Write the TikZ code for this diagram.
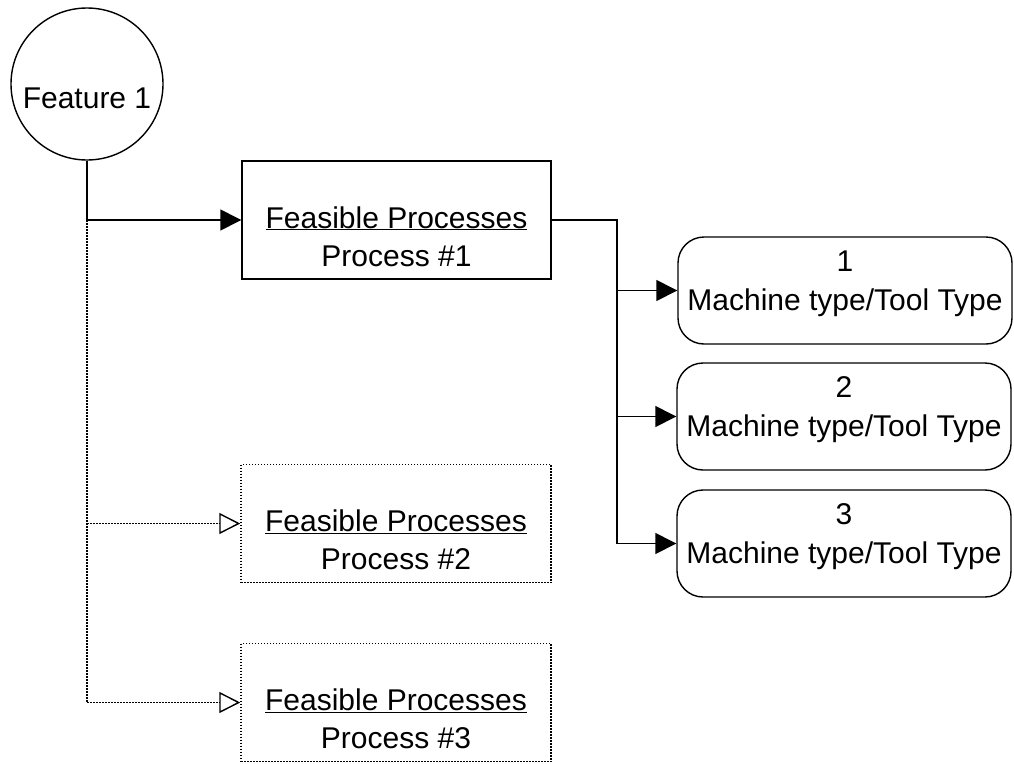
\documentclass[tikz,border=0pt]{standalone}
\usepackage{fontspec}
\setmainfont{Liberation Sans}
\usetikzlibrary{arrows.meta}
\begin{document}
\begin{tikzpicture}[x=1pt,y=-1pt,
  every node/.style={font=\fontsize{30}{36}\selectfont},
  ln/.style={line width=1.4pt},
  dln/.style={line width=1.5pt, dash pattern=on 1.5pt off 1.5pt},
  solidarr/.style={ln,-{Triangle[length=21pt,width=21pt]}},
  openarr/.style={dln,-{Triangle[open,length=21pt,width=21pt,line width=1.4pt]}},
  procbox/.style={draw,ln,minimum width=309pt,minimum height=118pt,inner sep=0pt},
  dprocbox/.style={draw,dln,minimum width=310pt,minimum height=118pt,inner sep=0pt},
  machbox/.style={draw,ln,rounded corners=26pt,minimum width=334pt,minimum height=107pt,inner sep=0pt},
  txt/.style={anchor=base,inner sep=0pt}
]
\useasboundingbox (0,0) rectangle (1014,763);

% feature circle
\node[draw,ln,circle,minimum size=152pt,inner sep=0pt] (f) at (87,84) {};
\node[txt] (ft) at (87,108) {Feature 1};

% process boxes
\node[procbox] (p1) at (396.5,220) {};
\node[txt] (p1a) at (396.5,228) {\underline{Feasible Processes}};
\node[txt] (p1b) at (396.5,266) {Process \#1};

\node[dprocbox] (p2) at (396,523.5) {};
\node[txt] (p2a) at (396,531) {\underline{Feasible Processes}};
\node[txt] (p2b) at (396,569) {Process \#2};

\node[dprocbox] (p3) at (396,702.5) {};
\node[txt] (p3a) at (396,710) {\underline{Feasible Processes}};
\node[txt] (p3b) at (396,748) {Process \#3};

% machine boxes
\node[machbox] (m1) at (845,290.5) {};
\node[txt] (m1a) at (845,271) {1};
\node[txt] (m1b) at (845,310) {Machine type/Tool Type};

\node[machbox] (m2) at (844,416.5) {};
\node[txt] (m2a) at (844,397) {2};
\node[txt] (m2b) at (844,436) {Machine type/Tool Type};

\node[machbox] (m3) at (844,543.5) {};
\node[txt] (m3a) at (844,524) {3};
\node[txt] (m3b) at (844,563) {Machine type/Tool Type};

% connectors from feature
\coordinate (j) at (f.south |- p1.west);
\draw[ln] (f.south) -- (j);
\draw[solidarr] (j) -- (p1.west);
\draw[dln] (j) -- (j |- p3.west);
\draw[openarr] (j |- p2.west) -- (p2.west);
\draw[openarr] (j |- p3.west) -- (p3.west);

% connectors to machines
\coordinate (r) at (617,220);
\draw[ln] (p1.east) -- (r) -- (r |- m3.west);
\draw[solidarr] (r |- m1.west) -- (m1.west);
\draw[solidarr] (r |- m2.west) -- (m2.west);
\draw[solidarr] (r |- m3.west) -- (m3.west);
\end{tikzpicture}
\end{document}
